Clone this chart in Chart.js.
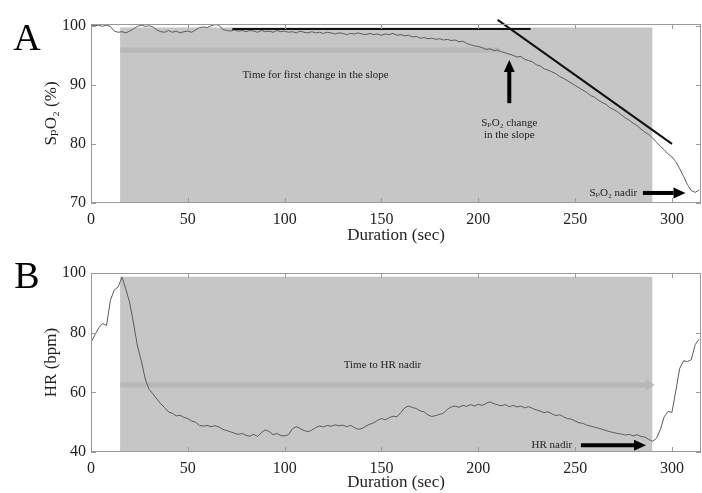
<!DOCTYPE html>
<html>
<head>
<meta charset="utf-8">
<script src="https://cdn.jsdelivr.net/npm/chart.js@4"></script>
<style>
  html, body { margin: 0; padding: 0; background: #fff; }
  canvas { position: absolute; left: 0; }
  #chartA { top: 0; }
  #chartB { top: 246px; }
</style>
</head>
<body>
<canvas id="chartA" width="702" height="246"></canvas>
<canvas id="chartB" width="702" height="247"></canvas>
<script>
// one sample every 2 s, from 0 to 314 s
const sampleStep = 2;

const spo2 = [
  100.1, 100.0, 100.1, 99.9, 100.1, 99.9, 99.1, 98.9, 99.0, 98.8,
  99.1, 99.5, 99.9, 100.1, 99.9, 100.0, 99.8, 99.3, 99.0, 98.9,
  99.2, 98.9, 99.1, 98.8, 99.0, 99.1, 98.9, 99.3, 99.7, 99.8,
  99.7, 100.0, 100.2, 100.1, 99.4, 99.2, 99.1, 99.3, 99.1, 99.2,
  99.0, 99.2, 99.1, 98.9, 99.2, 99.0, 99.1, 98.9, 99.2, 99.0,
  99.1, 98.9, 99.0, 98.8, 99.1, 98.9, 98.8, 99.0, 98.8, 98.9,
  98.7, 98.9, 98.8, 98.6, 98.8, 98.7, 98.5, 98.7, 98.6, 98.8,
  98.6, 98.5, 98.7, 98.5, 98.6, 98.4, 98.6, 98.5, 98.7, 98.4,
  98.5, 98.3, 98.4, 98.1, 98.2, 97.9, 98.0, 97.8, 97.9, 97.7,
  97.8, 97.6, 97.7, 97.5, 97.6, 97.3, 97.4, 97.0, 96.8, 96.6,
  96.5, 96.3, 96.0, 96.1, 95.8, 95.9, 95.6, 95.4, 95.2, 95.0,
  94.7, 94.8, 94.3, 94.1, 93.9, 93.4, 93.2, 92.7, 92.5, 92.2,
  91.9, 91.4, 91.1, 90.7, 90.3, 89.9, 89.5, 89.1, 88.7, 88.2,
  87.9, 87.4, 87.0, 86.7, 86.1, 85.8, 85.4, 84.9, 84.4, 84.0,
  83.5, 83.1, 82.5, 82.0, 81.6, 81.0, 80.3, 79.6, 79.0, 78.3,
  77.8, 77.0, 75.8, 74.5, 73.1, 72.1, 71.8, 72.2
];

const hr = [
  76.8, 79.2, 81.6, 83.1, 82.4, 90.8, 94.3, 95.3, 98.6, 94.6,
  90.0, 83.0, 75.5, 70.5, 64.5, 61.0, 59.5, 57.8, 56.2, 54.9,
  53.4, 53.0, 52.1, 52.3, 51.6, 51.2, 50.4, 50.0, 48.9, 48.7,
  48.9, 48.5, 48.8, 48.4, 47.6, 47.2, 46.8, 46.3, 45.9, 46.2,
  45.6, 45.3, 45.9, 45.2, 46.5, 47.4, 46.9, 45.8, 46.2, 45.5,
  45.4, 45.8, 47.8, 48.5, 47.9, 47.2, 46.8, 47.3, 48.2, 48.7,
  48.4, 48.9, 48.6, 49.1, 48.8, 49.0, 48.5, 48.9, 48.2, 47.6,
  47.9, 48.7, 49.3, 49.8, 50.6, 51.2, 50.8, 51.5, 52.0, 51.8,
  53.2, 54.8, 55.4, 54.9, 54.6, 53.8, 53.5, 52.4, 51.9, 52.2,
  52.6, 53.0, 54.3, 55.1, 55.4, 55.0, 55.6, 55.3, 55.9, 55.4,
  56.0, 55.6, 56.3, 56.8, 56.2, 55.8, 55.5, 55.9, 55.2, 55.6,
  55.1, 55.4, 54.8, 55.2, 54.6, 54.1, 53.7, 53.2, 53.5, 52.8,
  52.2, 52.5, 51.8, 51.2, 51.0, 50.4, 49.8, 49.6, 49.0, 48.7,
  48.3, 48.0, 47.6, 47.2, 46.8, 46.5, 46.2, 46.0, 45.7, 45.9,
  45.4, 45.8, 45.2, 45.0, 44.2, 43.6, 44.6, 47.5, 51.8, 53.6,
  53.3, 60.5, 68.0, 70.6, 70.3, 71.0, 76.0, 77.8
];

const xTicks = [0, 50, 100, 150, 200, 250, 300];
const spo2Ticks = [70, 80, 90, 100];
const hrTicks = [40, 60, 80, 100];

// apnea window (s) and annotation anchors, all in data units
const shadeWindow = [15, 290];
const spo2ShadeTop = 99.7;
const hrShadeTop = 98.75;
const spo2Baseline = [[73, 99.45], [227, 99.45]];
const spo2Slope = [[210, 101], [300, 80]];
const spo2Faded = [[15, 95.9], [211, 95.9]];
const hrFaded = [[15, 62.45], [287, 62.45]];

const toPoints = arr => arr.map((v, i) => ({ x: i * sampleStep, y: v }));
const pairs = arr => arr.map(p => ({ x: p[0], y: p[1] }));

const serif = "'Liberation Serif', 'DejaVu Serif', serif";

function arrow(ctx, x1, y1, x2, y2, shaft, headLen, headW, color) {
  const ang = Math.atan2(y2 - y1, x2 - x1);
  const bx = x2 - Math.cos(ang) * headLen, by = y2 - Math.sin(ang) * headLen;
  ctx.save();
  ctx.strokeStyle = color; ctx.fillStyle = color; ctx.lineWidth = shaft;
  if (shaft > 0) {
    ctx.beginPath(); ctx.moveTo(x1, y1); ctx.lineTo(bx, by); ctx.stroke();
  }
  ctx.beginPath();
  ctx.moveTo(x2, y2);
  ctx.lineTo(bx + Math.sin(ang) * headW / 2, by - Math.cos(ang) * headW / 2);
  ctx.lineTo(bx - Math.sin(ang) * headW / 2, by + Math.cos(ang) * headW / 2);
  ctx.closePath(); ctx.fill();
  ctx.restore();
}

const decor = {
  id: 'decor',
  afterDatasetsDraw(chart, args, opts) {
    const { ctx, chartArea: a, scales: { x, y } } = chart;
    // frame and inward ticks
    ctx.save();
    ctx.strokeStyle = '#9a9a9a'; ctx.lineWidth = 1;
    ctx.strokeRect(a.left + 0.5, a.top + 0.5, a.right - a.left - 1, a.bottom - a.top - 1);
    ctx.beginPath();
    x.ticks.forEach(t => {
      const px = Math.round(x.getPixelForValue(t.value)) + 0.5;
      ctx.moveTo(px, a.bottom); ctx.lineTo(px, a.bottom - 5);
      ctx.moveTo(px, a.top); ctx.lineTo(px, a.top + 5);
    });
    y.ticks.forEach(t => {
      const py = Math.round(y.getPixelForValue(t.value)) + 0.5;
      ctx.moveTo(a.left, py); ctx.lineTo(a.left + 5, py);
      ctx.moveTo(a.right, py); ctx.lineTo(a.right - 5, py);
    });
    ctx.stroke();
    ctx.restore();

    (opts.fadedHeads || []).forEach(h => {
      const px = x.getPixelForValue(h[0]), py = y.getPixelForValue(h[1]);
      arrow(ctx, px - 1, py, px + 8, py, 0, 9, 12, 'rgba(175,180,180,0.7)');
    });
    (opts.arrows || []).forEach(ar => {
      arrow(ctx, x.getPixelForValue(ar[0]), y.getPixelForValue(ar[1]),
        x.getPixelForValue(ar[2]), y.getPixelForValue(ar[3]), 4, 12, 11, '#000');
    });
    ctx.save();
    ctx.fillStyle = '#222';
    ctx.font = '11px ' + serif;
    ctx.textBaseline = 'middle';
    (opts.notes || []).forEach(n => {
      ctx.textAlign = n.align || 'center';
      ctx.fillText(n.text, x.getPixelForValue(n.x), y.getPixelForValue(n.y));
    });
    ctx.font = '38px ' + serif;
    ctx.fillStyle = '#000';
    ctx.textAlign = 'center';
    ctx.fillText(opts.letter, 27, opts.letterY);
    ctx.restore();
  }
};

function makeChart(id, cfg) {
  return new Chart(document.getElementById(id), {
    type: 'line',
    data: {
      datasets: [
        {
          data: pairs([[shadeWindow[0], cfg.shadeTop], [shadeWindow[1], cfg.shadeTop]]),
          borderWidth: 0, backgroundColor: '#c6c6c6', fill: 'start', pointRadius: 0, order: 4
        },
        {
          data: pairs(cfg.faded),
          borderColor: 'rgba(175,180,180,0.7)', borderWidth: 5, pointRadius: 0, fill: false, order: 3
        },
        {
          data: toPoints(cfg.values),
          borderColor: '#5c5c5c', borderWidth: 1, pointRadius: 0, fill: false, tension: 0, order: 2
        },
        ...cfg.extraLines.map(l => ({
          data: pairs(l), borderColor: '#111', borderWidth: 2, pointRadius: 0, fill: false,
          clip: false, order: 1
        }))
      ]
    },
    options: {
      responsive: false,
      animation: false,
      events: [],
      layout: { padding: { top: cfg.padTop, right: 1, left: 0, bottom: 0 } },
      plugins: {
        legend: { display: false },
        tooltip: { enabled: false },
        decor: cfg.decor
      },
      scales: {
        x: {
          type: 'linear', min: 0, max: 315,
          afterBuildTicks: s => { s.ticks = xTicks.map(v => ({ value: v })); },
          afterFit: s => { s.height = cfg.xHeight; },
          grid: { display: false, drawTicks: false }, border: { display: false },
          ticks: { color: '#222', padding: 7, font: { family: serif, size: 16 } },
          title: {
            display: true, text: 'Duration (sec)', color: '#222',
            padding: { top: 0, bottom: 0 }, font: { family: serif, size: 17 }
          }
        },
        y: {
          type: 'linear', min: cfg.yMin, max: cfg.yMax,
          afterBuildTicks: s => { s.ticks = cfg.yTicks.map(v => ({ value: v })); },
          afterFit: s => { s.width = 91; },
          grid: { display: false, drawTicks: false }, border: { display: false },
          ticks: { color: '#222', padding: 5, font: { family: serif, size: 16 } },
          title: {
            display: true, text: cfg.yTitle, color: '#222',
            padding: { top: 41, bottom: 0 }, font: { family: serif, size: 17 }
          }
        }
      }
    },
    plugins: [decor]
  });
}

makeChart('chartA', {
  values: spo2, shadeTop: spo2ShadeTop, faded: spo2Faded,
  extraLines: [spo2Baseline, spo2Slope],
  yMin: 70, yMax: 100.3, yTicks: spo2Ticks, yTitle: 'SₚO₂ (%)',
  padTop: 24, xHeight: 43,
  decor: {
    letter: 'A', letterY: 40,
    arrows: [[216, 86.9, 216, 94.2], [285, 71.7, 307, 71.7]],
    fadedHeads: [],
    notes: [
      { text: 'Time for first change in the slope', x: 116, y: 91.7 },
      { text: 'SₚO₂ change', x: 216, y: 83.6 },
      { text: 'in the slope', x: 216, y: 81.5 },
      { text: 'SₚO₂ nadir', x: 282, y: 71.7, align: 'right' }
    ]
  }
});

makeChart('chartB', {
  values: hr, shadeTop: hrShadeTop, faded: hrFaded,
  extraLines: [],
  yMin: 40, yMax: 100, yTicks: hrTicks, yTitle: 'HR (bpm)',
  padTop: 27, xHeight: 41,
  decor: {
    letter: 'B', letterY: 32,
    arrows: [[253, 42.3, 286.6, 42.3]],
    fadedHeads: [hrFaded[1]],
    notes: [
      { text: 'Time to HR nadir', x: 150.5, y: 69.2 },
      { text: 'HR nadir', x: 248.5, y: 42.3, align: 'right' }
    ]
  }
});
</script>
</body>
</html>
